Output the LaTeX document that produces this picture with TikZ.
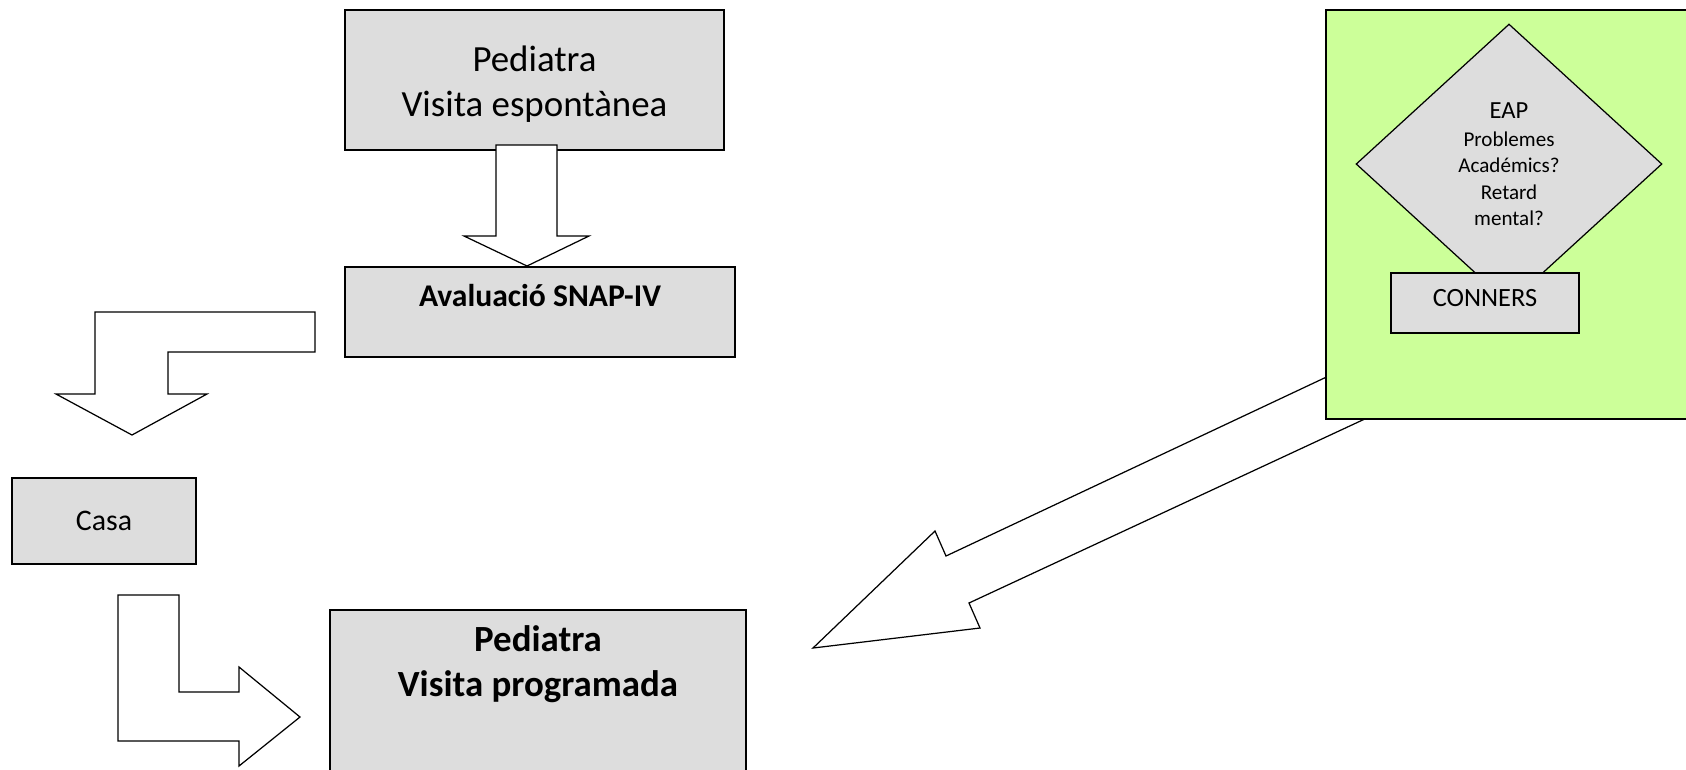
\documentclass[tikz,border=0pt]{standalone}
\usepackage{fontspec}
\setmainfont{Carlito}
\usetikzlibrary{shapes.geometric}
\definecolor{box}{HTML}{DDDDDD}
\definecolor{area}{HTML}{CCFF99}
\tikzset{box/.style={black,draw=black,fill=box,rectangle,line width=1pt}}
\tikzset{area/.style={black,draw=black,fill=area,rectangle,line width=1pt}}
\tikzset{decision/.style={black,draw=black,fill=box,diamond,line width=0.7pt,inner sep=0pt,align=center}}
\tikzset{blockarrow/.style={draw=black,fill=white,line width=0.7pt,line join=miter}}
\newcommand{\bigtext}{\fontsize{21}{25.5}\selectfont}

\begin{document}
\begin{tikzpicture}[x=0.02cm,y=-0.02cm]
            \useasboundingbox (0,0) rectangle (1686,769);

            \node[box,anchor=north,minimum width=7.58cm,minimum height=2.8cm,label={[anchor=center,yshift=-1.5cm,align=center,font=\bigtext]north:Pediatra\\Visita espontànea}] (visita) at (534.5,9) {};
            \draw[blockarrow] (496,145) -- (557,145) -- (557,236) -- (589,236) -- (527,266) -- (464,236) -- (496,236) -- cycle;
            \node[box,anchor=north,minimum width=7.8cm,minimum height=1.8cm,label={[anchor=center,yshift=-0.6cm,font=\fontsize{18}{22}\selectfont\bfseries]north:Avaluació SNAP-IV}] (snap) at (540,266) {};
            \draw[blockarrow] (315,312) -- (95,312) -- (95,394) -- (56,394) -- (132,435) -- (207,394) -- (168,394) -- (168,352) -- (315,352) -- cycle;
            \node[box,minimum width=3.68cm,minimum height=1.72cm,font=\fontsize{17}{20}\selectfont] (casa) at (104,521) {Casa};
            \draw[blockarrow] (118,595) -- (179,595) -- (179,692) -- (239,692) -- (239,667) -- (300,717) -- (239,766) -- (239,741) -- (118,741) -- cycle;
            \node[box,anchor=north,minimum width=8.32cm,minimum height=3.6cm,label={[anchor=center,yshift=-1.1cm,align=center,font=\bigtext\bfseries]north:Pediatra\\Visita programada}] (programada) at (538,609) {};

            % EAP
            \draw[blockarrow] (1420,333) -- (946,556) -- (935,531) -- (813,648) -- (980,628) -- (969,603) -- (1440,384) -- cycle;
            \node[area,anchor=north west,minimum width=7.4cm,minimum height=8.18cm] (eaparea) at (1325,9) {};
            \node[decision,minimum width=6.12cm,minimum height=5.6cm,font=\fontsize{12}{15}\selectfont] (eap) at (1509,164) {{\fontsize{14}{17}\selectfont EAP}\\[1pt]Problemes\\Académics?\\Retard\\mental?};
            \node[box,minimum width=3.76cm,minimum height=1.2cm,font=\fontsize{15}{18}\selectfont,text depth=0.2cm] (conners) at (1485,303) {CONNERS};
            \end{tikzpicture}
\end{document}
